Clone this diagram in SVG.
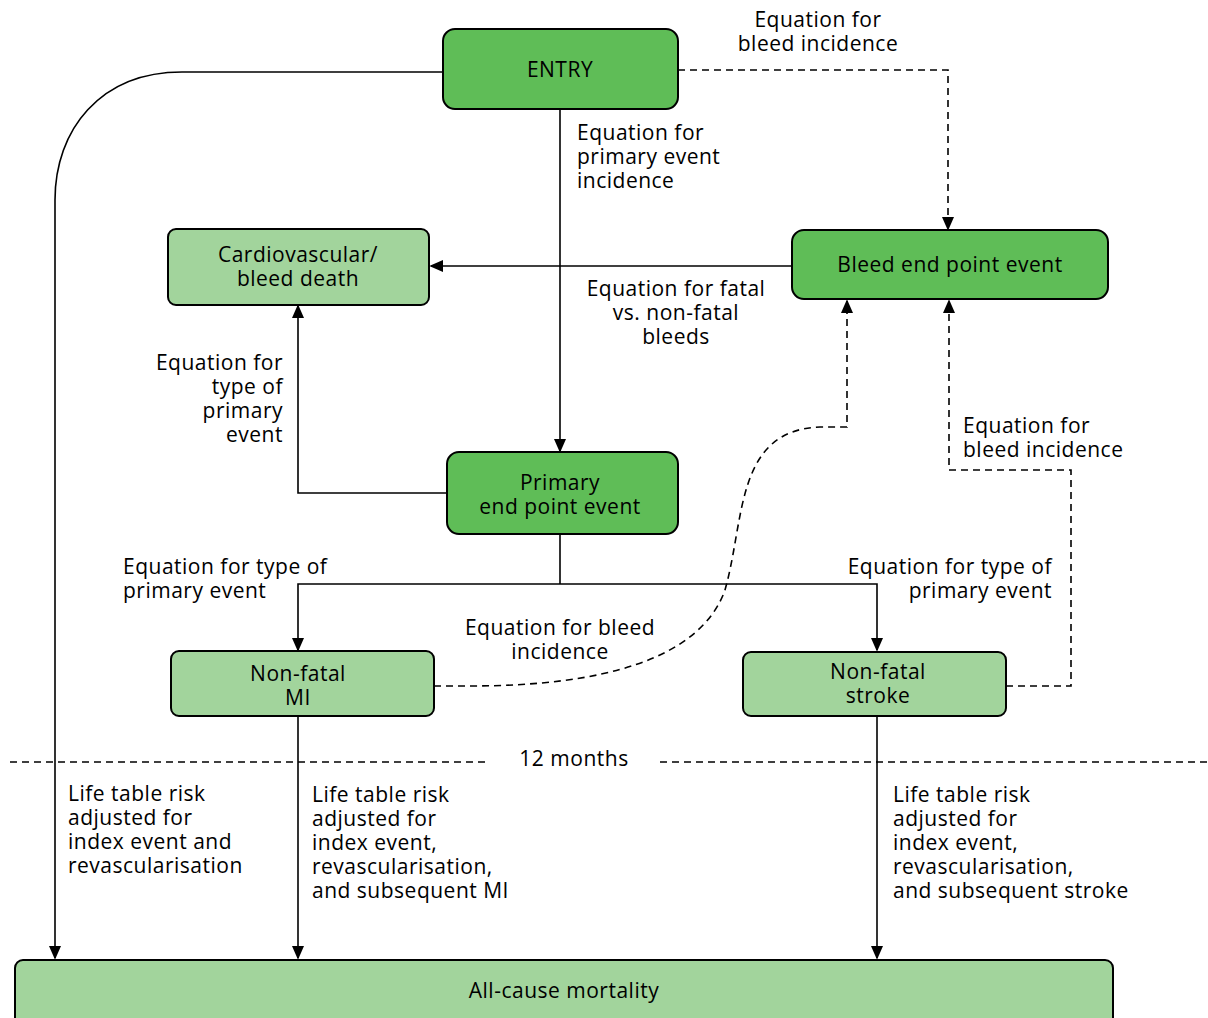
<svg xmlns="http://www.w3.org/2000/svg" width="1208" height="1018" viewBox="0 0 1208 1018">
<style>
.dk{fill:#5fbd57;stroke:#000;stroke-width:2}
.lt{fill:#a2d49c;stroke:#000;stroke-width:2}
text{font-family:"Open Sans","Liberation Sans",sans-serif;font-size:21px;letter-spacing:0.5px;fill:#000}
.c{text-anchor:middle}
.r{text-anchor:end}
.ln{fill:none;stroke:#000;stroke-width:1.6}
.ds{fill:none;stroke:#000;stroke-width:1.6;stroke-dasharray:7,5}
</style>
<defs>
<marker id="ah" markerWidth="14" markerHeight="18" refX="14" refY="7" orient="auto" markerUnits="userSpaceOnUse" viewBox="0 0 16 14">
<path d="M0,0 L16,7 L0,14 Z" fill="#000"/>
</marker>
</defs>
<g id="connectors">
<path class="ln" d="M443,72 L182,72 C100,72 55,130 55,200 L55,958" marker-end="url(#ah)"/>
<path class="ds" d="M678,70 L948,70 L948,229" marker-end="url(#ah)"/>
<path class="ln" d="M560,109 L560,451" marker-end="url(#ah)"/>
<path class="ln" d="M792,266 L431,266" marker-end="url(#ah)"/>
<path class="ln" d="M447,493 L298,493 L298,306" marker-end="url(#ah)"/>
<path class="ln" d="M560,534 L560,584"/>
<path class="ln" d="M560,584 L298,584 L298,650" marker-end="url(#ah)"/>
<path class="ln" d="M560,584 L877,584 L877,650" marker-end="url(#ah)"/>
<path class="ds" d="M434,686 L470,686 C600,686 700,660 725,590 C745,520 735,430 820,427 L847,427 L847,301" marker-end="url(#ah)"/>
<path class="ds" d="M1006,686 L1071,686 L1071,470 L949,470 L949,301" marker-end="url(#ah)"/>
<path class="ln" d="M298,716 L298,958" marker-end="url(#ah)"/>
<path class="ln" d="M877,716 L877,958" marker-end="url(#ah)"/>
<path class="ds" d="M10,762 L490,762 M660,762 L1208,762"/>
</g>
<g id="entry"><rect class="dk" x="443" y="29" width="235" height="80" rx="12"/><text class="c" x="560" y="77">ENTRY</text></g>
<g id="cv-death"><rect class="lt" x="168" y="229" width="261" height="76" rx="8"/><text class="c" x="298" y="262">Cardiovascular/</text><text class="c" x="298" y="286">bleed death</text></g>
<g id="bleed"><rect class="dk" x="792" y="230" width="316" height="69" rx="12"/><text class="c" x="950" y="272">Bleed end point event</text></g>
<g id="primary"><rect class="dk" x="447" y="452" width="231" height="82" rx="12"/><text class="c" x="560" y="490">Primary</text><text class="c" x="560" y="514">end point event</text></g>
<g id="mi"><rect class="lt" x="171" y="651" width="263" height="65" rx="8"/><text class="c" x="298" y="681">Non-fatal</text><text class="c" x="298" y="705">MI</text></g>
<g id="stroke"><rect class="lt" x="743" y="652" width="263" height="64" rx="8"/><text class="c" x="878" y="679">Non-fatal</text><text class="c" x="878" y="703">stroke</text></g>
<g id="mortality"><rect class="lt" x="15" y="960" width="1098" height="70" rx="8"/><text class="c" x="564" y="998">All-cause mortality</text></g>
<g id="labels">
<text class="c" x="818" y="27">Equation for</text><text class="c" x="818" y="51">bleed incidence</text>
<text x="577" y="140">Equation for</text><text x="577" y="164">primary event</text><text x="577" y="188">incidence</text>
<text class="c" x="676" y="296">Equation for fatal</text><text class="c" x="676" y="320">vs. non-fatal</text><text class="c" x="676" y="344">bleeds</text>
<text class="r" x="283" y="370">Equation for</text><text class="r" x="283" y="394">type of</text><text class="r" x="283" y="418">primary</text><text class="r" x="283" y="442">event</text>
<text x="963" y="433">Equation for</text><text x="963" y="457">bleed incidence</text>
<text x="123" y="574">Equation for type of</text><text x="123" y="598">primary event</text>
<text class="r" x="1052" y="574">Equation for type of</text><text class="r" x="1052" y="598">primary event</text>
<text class="c" x="560" y="635">Equation for bleed</text><text class="c" x="560" y="659">incidence</text>
<text class="c" x="574" y="766">12 months</text>
<text x="68" y="801">Life table risk</text><text x="68" y="825">adjusted for</text><text x="68" y="849">index event and</text><text x="68" y="873">revascularisation</text>
<text x="312" y="802">Life table risk</text><text x="312" y="826">adjusted for</text><text x="312" y="850">index event,</text><text x="312" y="874">revascularisation,</text><text x="312" y="898">and subsequent MI</text>
<text x="893" y="802">Life table risk</text><text x="893" y="826">adjusted for</text><text x="893" y="850">index event,</text><text x="893" y="874">revascularisation,</text><text x="893" y="898">and subsequent stroke</text>
</g>
</svg>
